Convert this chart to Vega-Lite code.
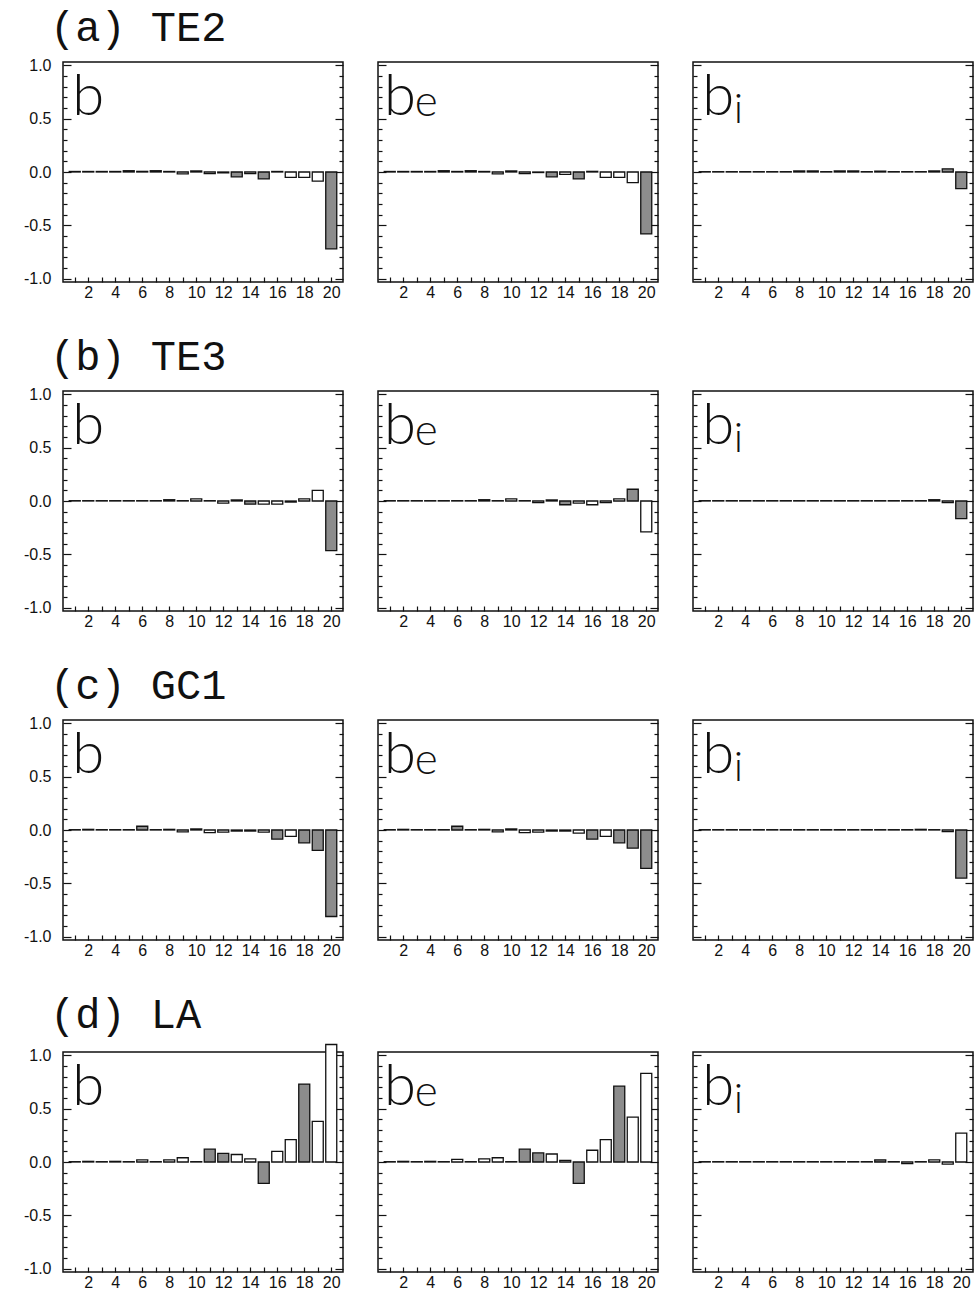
{
"$schema": "https://vega.github.io/schema/vega-lite/v6.json",
"background": "white",
"padding": {"left": 22, "top": 7, "right": 0, "bottom": 1},
"config": {
  "view": {"stroke": "#111", "strokeWidth": 1.5},
  "axis": {"domain": false, "grid": false, "labelFont": "Liberation Sans", "labelFontSize": 16, "labelColor": "#111", "tickColor": "#111", "tickWidth": 1.2},
  "title": {"font": "Liberation Mono", "fontSize": 42, "fontWeight": "normal", "color": "#111", "anchor": "start", "frame": "group", "dx": -13, "offset": 6}
},
"datasets": {"bars": [
{"row":"a","comp":"b","k":1,"v":0.005,"shade":"n"},{"row":"a","comp":"b","k":2,"v":0.005,"shade":"n"},{"row":"a","comp":"b","k":3,"v":0.005,"shade":"n"},{"row":"a","comp":"b","k":4,"v":0.005,"shade":"n"},{"row":"a","comp":"b","k":5,"v":0.012,"shade":"n"},{"row":"a","comp":"b","k":6,"v":0.006,"shade":"n"},{"row":"a","comp":"b","k":7,"v":0.012,"shade":"n"},{"row":"a","comp":"b","k":8,"v":0.005,"shade":"n"},{"row":"a","comp":"b","k":9,"v":-0.018,"shade":"n"},{"row":"a","comp":"b","k":10,"v":0.01,"shade":"n"},{"row":"a","comp":"b","k":11,"v":-0.015,"shade":"n"},{"row":"a","comp":"b","k":12,"v":-0.008,"shade":"n"},{"row":"a","comp":"b","k":13,"v":-0.045,"shade":"y"},{"row":"a","comp":"b","k":14,"v":-0.015,"shade":"n"},{"row":"a","comp":"b","k":15,"v":-0.065,"shade":"y"},{"row":"a","comp":"b","k":16,"v":0.005,"shade":"n"},{"row":"a","comp":"b","k":17,"v":-0.05,"shade":"n"},{"row":"a","comp":"b","k":18,"v":-0.05,"shade":"n"},{"row":"a","comp":"b","k":19,"v":-0.085,"shade":"n"},{"row":"a","comp":"b","k":20,"v":-0.72,"shade":"y"},
{"row":"a","comp":"be","k":1,"v":0.005,"shade":"n"},{"row":"a","comp":"be","k":2,"v":0.005,"shade":"n"},{"row":"a","comp":"be","k":3,"v":0.005,"shade":"n"},{"row":"a","comp":"be","k":4,"v":0.005,"shade":"n"},{"row":"a","comp":"be","k":5,"v":0.012,"shade":"n"},{"row":"a","comp":"be","k":6,"v":0.005,"shade":"n"},{"row":"a","comp":"be","k":7,"v":0.012,"shade":"n"},{"row":"a","comp":"be","k":8,"v":0.005,"shade":"n"},{"row":"a","comp":"be","k":9,"v":-0.018,"shade":"n"},{"row":"a","comp":"be","k":10,"v":0.01,"shade":"n"},{"row":"a","comp":"be","k":11,"v":-0.015,"shade":"n"},{"row":"a","comp":"be","k":12,"v":-0.005,"shade":"n"},{"row":"a","comp":"be","k":13,"v":-0.045,"shade":"y"},{"row":"a","comp":"be","k":14,"v":-0.022,"shade":"n"},{"row":"a","comp":"be","k":15,"v":-0.065,"shade":"y"},{"row":"a","comp":"be","k":16,"v":0.006,"shade":"n"},{"row":"a","comp":"be","k":17,"v":-0.05,"shade":"n"},{"row":"a","comp":"be","k":18,"v":-0.05,"shade":"n"},{"row":"a","comp":"be","k":19,"v":-0.1,"shade":"n"},{"row":"a","comp":"be","k":20,"v":-0.58,"shade":"y"},
{"row":"a","comp":"bi","k":1,"v":0.003,"shade":"n"},{"row":"a","comp":"bi","k":2,"v":0.003,"shade":"n"},{"row":"a","comp":"bi","k":3,"v":0.003,"shade":"n"},{"row":"a","comp":"bi","k":4,"v":0.003,"shade":"n"},{"row":"a","comp":"bi","k":5,"v":0.003,"shade":"n"},{"row":"a","comp":"bi","k":6,"v":0.003,"shade":"n"},{"row":"a","comp":"bi","k":7,"v":0.003,"shade":"n"},{"row":"a","comp":"bi","k":8,"v":0.01,"shade":"n"},{"row":"a","comp":"bi","k":9,"v":0.01,"shade":"n"},{"row":"a","comp":"bi","k":10,"v":0.003,"shade":"n"},{"row":"a","comp":"bi","k":11,"v":0.01,"shade":"n"},{"row":"a","comp":"bi","k":12,"v":0.01,"shade":"n"},{"row":"a","comp":"bi","k":13,"v":0.003,"shade":"n"},{"row":"a","comp":"bi","k":14,"v":0.008,"shade":"n"},{"row":"a","comp":"bi","k":15,"v":0.003,"shade":"n"},{"row":"a","comp":"bi","k":16,"v":0.003,"shade":"n"},{"row":"a","comp":"bi","k":17,"v":0.003,"shade":"n"},{"row":"a","comp":"bi","k":18,"v":0.01,"shade":"n"},{"row":"a","comp":"bi","k":19,"v":0.03,"shade":"y"},{"row":"a","comp":"bi","k":20,"v":-0.155,"shade":"y"},
{"row":"b","comp":"b","k":1,"v":0.003,"shade":"n"},{"row":"b","comp":"b","k":2,"v":0.003,"shade":"n"},{"row":"b","comp":"b","k":3,"v":0.003,"shade":"n"},{"row":"b","comp":"b","k":4,"v":0.003,"shade":"n"},{"row":"b","comp":"b","k":5,"v":0.003,"shade":"n"},{"row":"b","comp":"b","k":6,"v":0.003,"shade":"n"},{"row":"b","comp":"b","k":7,"v":0.003,"shade":"n"},{"row":"b","comp":"b","k":8,"v":0.012,"shade":"n"},{"row":"b","comp":"b","k":9,"v":0.003,"shade":"n"},{"row":"b","comp":"b","k":10,"v":0.02,"shade":"n"},{"row":"b","comp":"b","k":11,"v":0.003,"shade":"n"},{"row":"b","comp":"b","k":12,"v":-0.02,"shade":"n"},{"row":"b","comp":"b","k":13,"v":0.01,"shade":"n"},{"row":"b","comp":"b","k":14,"v":-0.03,"shade":"y"},{"row":"b","comp":"b","k":15,"v":-0.03,"shade":"n"},{"row":"b","comp":"b","k":16,"v":-0.03,"shade":"n"},{"row":"b","comp":"b","k":17,"v":-0.01,"shade":"n"},{"row":"b","comp":"b","k":18,"v":0.02,"shade":"n"},{"row":"b","comp":"b","k":19,"v":0.1,"shade":"n"},{"row":"b","comp":"b","k":20,"v":-0.465,"shade":"y"},
{"row":"b","comp":"be","k":1,"v":0.003,"shade":"n"},{"row":"b","comp":"be","k":2,"v":0.003,"shade":"n"},{"row":"b","comp":"be","k":3,"v":0.003,"shade":"n"},{"row":"b","comp":"be","k":4,"v":0.003,"shade":"n"},{"row":"b","comp":"be","k":5,"v":0.003,"shade":"n"},{"row":"b","comp":"be","k":6,"v":0.003,"shade":"n"},{"row":"b","comp":"be","k":7,"v":0.003,"shade":"n"},{"row":"b","comp":"be","k":8,"v":0.012,"shade":"n"},{"row":"b","comp":"be","k":9,"v":0.003,"shade":"n"},{"row":"b","comp":"be","k":10,"v":0.02,"shade":"n"},{"row":"b","comp":"be","k":11,"v":0.003,"shade":"n"},{"row":"b","comp":"be","k":12,"v":-0.015,"shade":"n"},{"row":"b","comp":"be","k":13,"v":0.01,"shade":"n"},{"row":"b","comp":"be","k":14,"v":-0.035,"shade":"y"},{"row":"b","comp":"be","k":15,"v":-0.02,"shade":"n"},{"row":"b","comp":"be","k":16,"v":-0.035,"shade":"n"},{"row":"b","comp":"be","k":17,"v":-0.015,"shade":"n"},{"row":"b","comp":"be","k":18,"v":0.02,"shade":"n"},{"row":"b","comp":"be","k":19,"v":0.11,"shade":"y"},{"row":"b","comp":"be","k":20,"v":-0.29,"shade":"n"},
{"row":"b","comp":"bi","k":1,"v":0.003,"shade":"n"},{"row":"b","comp":"bi","k":2,"v":0.003,"shade":"n"},{"row":"b","comp":"bi","k":3,"v":0.003,"shade":"n"},{"row":"b","comp":"bi","k":4,"v":0.003,"shade":"n"},{"row":"b","comp":"bi","k":5,"v":0.003,"shade":"n"},{"row":"b","comp":"bi","k":6,"v":0.003,"shade":"n"},{"row":"b","comp":"bi","k":7,"v":0.003,"shade":"n"},{"row":"b","comp":"bi","k":8,"v":0.003,"shade":"n"},{"row":"b","comp":"bi","k":9,"v":0.003,"shade":"n"},{"row":"b","comp":"bi","k":10,"v":0.003,"shade":"n"},{"row":"b","comp":"bi","k":11,"v":0.003,"shade":"n"},{"row":"b","comp":"bi","k":12,"v":0.003,"shade":"n"},{"row":"b","comp":"bi","k":13,"v":0.003,"shade":"n"},{"row":"b","comp":"bi","k":14,"v":0.003,"shade":"n"},{"row":"b","comp":"bi","k":15,"v":0.003,"shade":"n"},{"row":"b","comp":"bi","k":16,"v":0.003,"shade":"n"},{"row":"b","comp":"bi","k":17,"v":0.003,"shade":"n"},{"row":"b","comp":"bi","k":18,"v":0.012,"shade":"n"},{"row":"b","comp":"bi","k":19,"v":-0.015,"shade":"n"},{"row":"b","comp":"bi","k":20,"v":-0.165,"shade":"y"},
{"row":"c","comp":"b","k":1,"v":0.003,"shade":"n"},{"row":"c","comp":"b","k":2,"v":0.006,"shade":"n"},{"row":"c","comp":"b","k":3,"v":0.003,"shade":"n"},{"row":"c","comp":"b","k":4,"v":0.003,"shade":"n"},{"row":"c","comp":"b","k":5,"v":0.003,"shade":"n"},{"row":"c","comp":"b","k":6,"v":0.035,"shade":"y"},{"row":"c","comp":"b","k":7,"v":0.003,"shade":"n"},{"row":"c","comp":"b","k":8,"v":0.006,"shade":"n"},{"row":"c","comp":"b","k":9,"v":-0.018,"shade":"n"},{"row":"c","comp":"b","k":10,"v":0.01,"shade":"n"},{"row":"c","comp":"b","k":11,"v":-0.025,"shade":"n"},{"row":"c","comp":"b","k":12,"v":-0.02,"shade":"n"},{"row":"c","comp":"b","k":13,"v":-0.01,"shade":"n"},{"row":"c","comp":"b","k":14,"v":-0.01,"shade":"n"},{"row":"c","comp":"b","k":15,"v":-0.02,"shade":"n"},{"row":"c","comp":"b","k":16,"v":-0.085,"shade":"y"},{"row":"c","comp":"b","k":17,"v":-0.06,"shade":"n"},{"row":"c","comp":"b","k":18,"v":-0.12,"shade":"y"},{"row":"c","comp":"b","k":19,"v":-0.19,"shade":"y"},{"row":"c","comp":"b","k":20,"v":-0.81,"shade":"y"},
{"row":"c","comp":"be","k":1,"v":0.003,"shade":"n"},{"row":"c","comp":"be","k":2,"v":0.006,"shade":"n"},{"row":"c","comp":"be","k":3,"v":0.003,"shade":"n"},{"row":"c","comp":"be","k":4,"v":0.003,"shade":"n"},{"row":"c","comp":"be","k":5,"v":0.003,"shade":"n"},{"row":"c","comp":"be","k":6,"v":0.035,"shade":"y"},{"row":"c","comp":"be","k":7,"v":0.003,"shade":"n"},{"row":"c","comp":"be","k":8,"v":0.006,"shade":"n"},{"row":"c","comp":"be","k":9,"v":-0.018,"shade":"n"},{"row":"c","comp":"be","k":10,"v":0.01,"shade":"n"},{"row":"c","comp":"be","k":11,"v":-0.025,"shade":"n"},{"row":"c","comp":"be","k":12,"v":-0.02,"shade":"n"},{"row":"c","comp":"be","k":13,"v":-0.01,"shade":"n"},{"row":"c","comp":"be","k":14,"v":-0.01,"shade":"n"},{"row":"c","comp":"be","k":15,"v":-0.03,"shade":"n"},{"row":"c","comp":"be","k":16,"v":-0.085,"shade":"y"},{"row":"c","comp":"be","k":17,"v":-0.06,"shade":"n"},{"row":"c","comp":"be","k":18,"v":-0.12,"shade":"y"},{"row":"c","comp":"be","k":19,"v":-0.17,"shade":"y"},{"row":"c","comp":"be","k":20,"v":-0.36,"shade":"y"},
{"row":"c","comp":"bi","k":1,"v":0.003,"shade":"n"},{"row":"c","comp":"bi","k":2,"v":0.003,"shade":"n"},{"row":"c","comp":"bi","k":3,"v":0.003,"shade":"n"},{"row":"c","comp":"bi","k":4,"v":0.003,"shade":"n"},{"row":"c","comp":"bi","k":5,"v":0.003,"shade":"n"},{"row":"c","comp":"bi","k":6,"v":0.003,"shade":"n"},{"row":"c","comp":"bi","k":7,"v":0.003,"shade":"n"},{"row":"c","comp":"bi","k":8,"v":0.003,"shade":"n"},{"row":"c","comp":"bi","k":9,"v":0.003,"shade":"n"},{"row":"c","comp":"bi","k":10,"v":0.003,"shade":"n"},{"row":"c","comp":"bi","k":11,"v":0.003,"shade":"n"},{"row":"c","comp":"bi","k":12,"v":0.003,"shade":"n"},{"row":"c","comp":"bi","k":13,"v":0.003,"shade":"n"},{"row":"c","comp":"bi","k":14,"v":0.003,"shade":"n"},{"row":"c","comp":"bi","k":15,"v":0.003,"shade":"n"},{"row":"c","comp":"bi","k":16,"v":0.003,"shade":"n"},{"row":"c","comp":"bi","k":17,"v":0.006,"shade":"n"},{"row":"c","comp":"bi","k":18,"v":0.003,"shade":"n"},{"row":"c","comp":"bi","k":19,"v":-0.015,"shade":"n"},{"row":"c","comp":"bi","k":20,"v":-0.45,"shade":"y"},
{"row":"d","comp":"b","k":1,"v":0.003,"shade":"n"},{"row":"d","comp":"b","k":2,"v":0.006,"shade":"n"},{"row":"d","comp":"b","k":3,"v":0.003,"shade":"n"},{"row":"d","comp":"b","k":4,"v":0.006,"shade":"n"},{"row":"d","comp":"b","k":5,"v":0.003,"shade":"n"},{"row":"d","comp":"b","k":6,"v":0.02,"shade":"n"},{"row":"d","comp":"b","k":7,"v":0.003,"shade":"n"},{"row":"d","comp":"b","k":8,"v":0.02,"shade":"n"},{"row":"d","comp":"b","k":9,"v":0.04,"shade":"n"},{"row":"d","comp":"b","k":10,"v":0.003,"shade":"n"},{"row":"d","comp":"b","k":11,"v":0.12,"shade":"y"},{"row":"d","comp":"b","k":12,"v":0.08,"shade":"y"},{"row":"d","comp":"b","k":13,"v":0.07,"shade":"n"},{"row":"d","comp":"b","k":14,"v":0.03,"shade":"n"},{"row":"d","comp":"b","k":15,"v":-0.2,"shade":"y"},{"row":"d","comp":"b","k":16,"v":0.1,"shade":"n"},{"row":"d","comp":"b","k":17,"v":0.21,"shade":"n"},{"row":"d","comp":"b","k":18,"v":0.73,"shade":"y"},{"row":"d","comp":"b","k":19,"v":0.38,"shade":"n"},{"row":"d","comp":"b","k":20,"v":1.1,"shade":"n"},
{"row":"d","comp":"be","k":1,"v":0.003,"shade":"n"},{"row":"d","comp":"be","k":2,"v":0.006,"shade":"n"},{"row":"d","comp":"be","k":3,"v":0.003,"shade":"n"},{"row":"d","comp":"be","k":4,"v":0.006,"shade":"n"},{"row":"d","comp":"be","k":5,"v":0.003,"shade":"n"},{"row":"d","comp":"be","k":6,"v":0.025,"shade":"n"},{"row":"d","comp":"be","k":7,"v":0.003,"shade":"n"},{"row":"d","comp":"be","k":8,"v":0.03,"shade":"n"},{"row":"d","comp":"be","k":9,"v":0.04,"shade":"n"},{"row":"d","comp":"be","k":10,"v":0.003,"shade":"n"},{"row":"d","comp":"be","k":11,"v":0.12,"shade":"y"},{"row":"d","comp":"be","k":12,"v":0.085,"shade":"y"},{"row":"d","comp":"be","k":13,"v":0.075,"shade":"n"},{"row":"d","comp":"be","k":14,"v":0.015,"shade":"n"},{"row":"d","comp":"be","k":15,"v":-0.2,"shade":"y"},{"row":"d","comp":"be","k":16,"v":0.11,"shade":"n"},{"row":"d","comp":"be","k":17,"v":0.21,"shade":"n"},{"row":"d","comp":"be","k":18,"v":0.71,"shade":"y"},{"row":"d","comp":"be","k":19,"v":0.42,"shade":"n"},{"row":"d","comp":"be","k":20,"v":0.83,"shade":"n"},
{"row":"d","comp":"bi","k":1,"v":0.003,"shade":"n"},{"row":"d","comp":"bi","k":2,"v":0.003,"shade":"n"},{"row":"d","comp":"bi","k":3,"v":0.003,"shade":"n"},{"row":"d","comp":"bi","k":4,"v":0.003,"shade":"n"},{"row":"d","comp":"bi","k":5,"v":0.003,"shade":"n"},{"row":"d","comp":"bi","k":6,"v":0.003,"shade":"n"},{"row":"d","comp":"bi","k":7,"v":0.003,"shade":"n"},{"row":"d","comp":"bi","k":8,"v":0.003,"shade":"n"},{"row":"d","comp":"bi","k":9,"v":0.003,"shade":"n"},{"row":"d","comp":"bi","k":10,"v":0.003,"shade":"n"},{"row":"d","comp":"bi","k":11,"v":0.003,"shade":"n"},{"row":"d","comp":"bi","k":12,"v":0.003,"shade":"n"},{"row":"d","comp":"bi","k":13,"v":0.003,"shade":"n"},{"row":"d","comp":"bi","k":14,"v":0.02,"shade":"y"},{"row":"d","comp":"bi","k":15,"v":0.003,"shade":"n"},{"row":"d","comp":"bi","k":16,"v":-0.015,"shade":"n"},{"row":"d","comp":"bi","k":17,"v":0.003,"shade":"n"},{"row":"d","comp":"bi","k":18,"v":0.02,"shade":"n"},{"row":"d","comp":"bi","k":19,"v":-0.02,"shade":"n"},{"row":"d","comp":"bi","k":20,"v":0.27,"shade":"n"}
]},
"spacing": 35,
"vconcat": [
{"title": {"text": "(a) TE2"}, "spacing": 31, "hconcat": [
 {"width": 280, "height": 220, "resolve": {"axis": {"x": "independent", "y": "independent"}}, "layer": [
  {"data": {"name": "bars"}, "transform": [{"filter": "datum.row=='a' && datum.comp=='b'"}],
   "mark": {"type": "bar", "orient": "vertical", "size": 11, "stroke": "#111", "strokeWidth": 1.3, "clip": false},
   "encoding": {
    "x": {"field": "k", "type": "quantitative", "scale": {"domain": [0.5, 20.5], "nice": false, "zero": false}, "axis": {"title": null, "values": [1,2,3,4,5,6,7,8,9,10,11,12,13,14,15,16,17,18,19,20], "labelExpr": "datum.value % 2 == 0 ? datum.label : ''", "tickSize": -5, "labelPadding": 7}},
    "y": {"field": "v", "type": "quantitative", "scale": {"domain": [-1.03, 1.03], "nice": false}, "axis": {"title": null, "values": [-1,-0.9,-0.8,-0.7,-0.6,-0.5,-0.4,-0.3,-0.2,-0.1,0,0.1,0.2,0.3,0.4,0.5,0.6,0.7,0.8,0.9,1], "labelExpr": "abs(round(datum.value*10)) % 5 == 0 ? (datum.value < -0.001 ? '-' : '') + format(abs(datum.value), '.1f') : ''", "tickSize": {"condition": {"test": "abs(round(datum.value*10)) % 5 == 0", "value": -8}, "value": -4}, "labelPadding": 20}},
    "fill": {"field": "shade", "type": "nominal", "scale": {"domain": ["y", "n"], "range": ["#8c8c8c", "#ffffff"]}, "legend": null}}},
  {"data": {"values": [{"t": "b"}]}, "mark": {"type": "text", "font": "Lato", "fontWeight": 300, "fontSize": 58, "align": "left", "baseline": "alphabetic", "color": "#111"},
   "encoding": {"x": {"datum": 0.81, "type": "quantitative", "axis": null}, "y": {"datum": 0.53, "type": "quantitative", "axis": {"orient": "right", "title": null, "labels": false, "values": [-1,-0.9,-0.8,-0.7,-0.6,-0.5,-0.4,-0.3,-0.2,-0.1,0,0.1,0.2,0.3,0.4,0.5,0.6,0.7,0.8,0.9,1], "tickSize": {"condition": {"test": "abs(round(datum.value*10)) % 5 == 0", "value": -8}, "value": -4}}}, "text": {"field": "t"}}}
 ]},
 {"width": 280, "height": 220, "resolve": {"axis": {"x": "independent", "y": "independent"}}, "layer": [
  {"data": {"name": "bars"}, "transform": [{"filter": "datum.row=='a' && datum.comp=='be'"}],
   "mark": {"type": "bar", "orient": "vertical", "size": 11, "stroke": "#111", "strokeWidth": 1.3, "clip": false},
   "encoding": {
    "x": {"field": "k", "type": "quantitative", "scale": {"domain": [0.5, 20.5], "nice": false, "zero": false}, "axis": {"title": null, "values": [1,2,3,4,5,6,7,8,9,10,11,12,13,14,15,16,17,18,19,20], "labelExpr": "datum.value % 2 == 0 ? datum.label : ''", "tickSize": -5, "labelPadding": 7}},
    "y": {"field": "v", "type": "quantitative", "scale": {"domain": [-1.03, 1.03], "nice": false}, "axis": {"title": null, "labels": false, "values": [-1,-0.9,-0.8,-0.7,-0.6,-0.5,-0.4,-0.3,-0.2,-0.1,0,0.1,0.2,0.3,0.4,0.5,0.6,0.7,0.8,0.9,1], "tickSize": {"condition": {"test": "abs(round(datum.value*10)) % 5 == 0", "value": -8}, "value": -4}}},
    "fill": {"field": "shade", "type": "nominal", "scale": {"domain": ["y", "n"], "range": ["#8c8c8c", "#ffffff"]}, "legend": null}}},
  {"data": {"values": [{"t": "b"}]}, "mark": {"type": "text", "font": "Lato", "fontWeight": 300, "fontSize": 58, "align": "left", "baseline": "alphabetic", "color": "#111"},
   "encoding": {"x": {"datum": 0.57, "type": "quantitative", "axis": null}, "y": {"datum": 0.53, "type": "quantitative", "axis": {"orient": "right", "title": null, "labels": false, "values": [-1,-0.9,-0.8,-0.7,-0.6,-0.5,-0.4,-0.3,-0.2,-0.1,0,0.1,0.2,0.3,0.4,0.5,0.6,0.7,0.8,0.9,1], "tickSize": {"condition": {"test": "abs(round(datum.value*10)) % 5 == 0", "value": -8}, "value": -4}}}, "text": {"field": "t"}}},
  {"data": {"values": [{"t": "e"}]}, "mark": {"type": "text", "font": "Lato", "fontWeight": 300, "fontSize": 44, "align": "left", "baseline": "alphabetic", "color": "#111"},
   "encoding": {"x": {"datum": 2.85, "type": "quantitative", "axis": null}, "y": {"datum": 0.52, "type": "quantitative", "axis": null}, "text": {"field": "t"}}}
 ]},
 {"width": 280, "height": 220, "resolve": {"axis": {"x": "independent", "y": "independent"}}, "layer": [
  {"data": {"name": "bars"}, "transform": [{"filter": "datum.row=='a' && datum.comp=='bi'"}],
   "mark": {"type": "bar", "orient": "vertical", "size": 11, "stroke": "#111", "strokeWidth": 1.3, "clip": false},
   "encoding": {
    "x": {"field": "k", "type": "quantitative", "scale": {"domain": [0.5, 20.5], "nice": false, "zero": false}, "axis": {"title": null, "values": [1,2,3,4,5,6,7,8,9,10,11,12,13,14,15,16,17,18,19,20], "labelExpr": "datum.value % 2 == 0 ? datum.label : ''", "tickSize": -5, "labelPadding": 7}},
    "y": {"field": "v", "type": "quantitative", "scale": {"domain": [-1.03, 1.03], "nice": false}, "axis": {"title": null, "labels": false, "values": [-1,-0.9,-0.8,-0.7,-0.6,-0.5,-0.4,-0.3,-0.2,-0.1,0,0.1,0.2,0.3,0.4,0.5,0.6,0.7,0.8,0.9,1], "tickSize": {"condition": {"test": "abs(round(datum.value*10)) % 5 == 0", "value": -8}, "value": -4}}},
    "fill": {"field": "shade", "type": "nominal", "scale": {"domain": ["y", "n"], "range": ["#8c8c8c", "#ffffff"]}, "legend": null}}},
  {"data": {"values": [{"t": "b"}]}, "mark": {"type": "text", "font": "Lato", "fontWeight": 300, "fontSize": 58, "align": "left", "baseline": "alphabetic", "color": "#111"},
   "encoding": {"x": {"datum": 0.81, "type": "quantitative", "axis": null}, "y": {"datum": 0.53, "type": "quantitative", "axis": {"orient": "right", "title": null, "labels": false, "values": [-1,-0.9,-0.8,-0.7,-0.6,-0.5,-0.4,-0.3,-0.2,-0.1,0,0.1,0.2,0.3,0.4,0.5,0.6,0.7,0.8,0.9,1], "tickSize": {"condition": {"test": "abs(round(datum.value*10)) % 5 == 0", "value": -8}, "value": -4}}}, "text": {"field": "t"}}},
  {"data": {"values": [{"t": "i"}]}, "mark": {"type": "text", "font": "Lato", "fontWeight": 300, "fontSize": 42, "align": "left", "baseline": "alphabetic", "color": "#111"},
   "encoding": {"x": {"datum": 3.15, "type": "quantitative", "axis": null}, "y": {"datum": 0.46, "type": "quantitative", "axis": null}, "text": {"field": "t"}}}
 ]}
]},
{"title": {"text": "(b) TE3"}, "spacing": 31, "hconcat": [
 {"width": 280, "height": 220, "resolve": {"axis": {"x": "independent", "y": "independent"}}, "layer": [
  {"data": {"name": "bars"}, "transform": [{"filter": "datum.row=='b' && datum.comp=='b'"}],
   "mark": {"type": "bar", "orient": "vertical", "size": 11, "stroke": "#111", "strokeWidth": 1.3, "clip": false},
   "encoding": {
    "x": {"field": "k", "type": "quantitative", "scale": {"domain": [0.5, 20.5], "nice": false, "zero": false}, "axis": {"title": null, "values": [1,2,3,4,5,6,7,8,9,10,11,12,13,14,15,16,17,18,19,20], "labelExpr": "datum.value % 2 == 0 ? datum.label : ''", "tickSize": -5, "labelPadding": 7}},
    "y": {"field": "v", "type": "quantitative", "scale": {"domain": [-1.03, 1.03], "nice": false}, "axis": {"title": null, "values": [-1,-0.9,-0.8,-0.7,-0.6,-0.5,-0.4,-0.3,-0.2,-0.1,0,0.1,0.2,0.3,0.4,0.5,0.6,0.7,0.8,0.9,1], "labelExpr": "abs(round(datum.value*10)) % 5 == 0 ? (datum.value < -0.001 ? '-' : '') + format(abs(datum.value), '.1f') : ''", "tickSize": {"condition": {"test": "abs(round(datum.value*10)) % 5 == 0", "value": -8}, "value": -4}, "labelPadding": 20}},
    "fill": {"field": "shade", "type": "nominal", "scale": {"domain": ["y", "n"], "range": ["#8c8c8c", "#ffffff"]}, "legend": null}}},
  {"data": {"values": [{"t": "b"}]}, "mark": {"type": "text", "font": "Lato", "fontWeight": 300, "fontSize": 58, "align": "left", "baseline": "alphabetic", "color": "#111"},
   "encoding": {"x": {"datum": 0.81, "type": "quantitative", "axis": null}, "y": {"datum": 0.53, "type": "quantitative", "axis": {"orient": "right", "title": null, "labels": false, "values": [-1,-0.9,-0.8,-0.7,-0.6,-0.5,-0.4,-0.3,-0.2,-0.1,0,0.1,0.2,0.3,0.4,0.5,0.6,0.7,0.8,0.9,1], "tickSize": {"condition": {"test": "abs(round(datum.value*10)) % 5 == 0", "value": -8}, "value": -4}}}, "text": {"field": "t"}}}
 ]},
 {"width": 280, "height": 220, "resolve": {"axis": {"x": "independent", "y": "independent"}}, "layer": [
  {"data": {"name": "bars"}, "transform": [{"filter": "datum.row=='b' && datum.comp=='be'"}],
   "mark": {"type": "bar", "orient": "vertical", "size": 11, "stroke": "#111", "strokeWidth": 1.3, "clip": false},
   "encoding": {
    "x": {"field": "k", "type": "quantitative", "scale": {"domain": [0.5, 20.5], "nice": false, "zero": false}, "axis": {"title": null, "values": [1,2,3,4,5,6,7,8,9,10,11,12,13,14,15,16,17,18,19,20], "labelExpr": "datum.value % 2 == 0 ? datum.label : ''", "tickSize": -5, "labelPadding": 7}},
    "y": {"field": "v", "type": "quantitative", "scale": {"domain": [-1.03, 1.03], "nice": false}, "axis": {"title": null, "labels": false, "values": [-1,-0.9,-0.8,-0.7,-0.6,-0.5,-0.4,-0.3,-0.2,-0.1,0,0.1,0.2,0.3,0.4,0.5,0.6,0.7,0.8,0.9,1], "tickSize": {"condition": {"test": "abs(round(datum.value*10)) % 5 == 0", "value": -8}, "value": -4}}},
    "fill": {"field": "shade", "type": "nominal", "scale": {"domain": ["y", "n"], "range": ["#8c8c8c", "#ffffff"]}, "legend": null}}},
  {"data": {"values": [{"t": "b"}]}, "mark": {"type": "text", "font": "Lato", "fontWeight": 300, "fontSize": 58, "align": "left", "baseline": "alphabetic", "color": "#111"},
   "encoding": {"x": {"datum": 0.57, "type": "quantitative", "axis": null}, "y": {"datum": 0.53, "type": "quantitative", "axis": {"orient": "right", "title": null, "labels": false, "values": [-1,-0.9,-0.8,-0.7,-0.6,-0.5,-0.4,-0.3,-0.2,-0.1,0,0.1,0.2,0.3,0.4,0.5,0.6,0.7,0.8,0.9,1], "tickSize": {"condition": {"test": "abs(round(datum.value*10)) % 5 == 0", "value": -8}, "value": -4}}}, "text": {"field": "t"}}},
  {"data": {"values": [{"t": "e"}]}, "mark": {"type": "text", "font": "Lato", "fontWeight": 300, "fontSize": 44, "align": "left", "baseline": "alphabetic", "color": "#111"},
   "encoding": {"x": {"datum": 2.85, "type": "quantitative", "axis": null}, "y": {"datum": 0.52, "type": "quantitative", "axis": null}, "text": {"field": "t"}}}
 ]},
 {"width": 280, "height": 220, "resolve": {"axis": {"x": "independent", "y": "independent"}}, "layer": [
  {"data": {"name": "bars"}, "transform": [{"filter": "datum.row=='b' && datum.comp=='bi'"}],
   "mark": {"type": "bar", "orient": "vertical", "size": 11, "stroke": "#111", "strokeWidth": 1.3, "clip": false},
   "encoding": {
    "x": {"field": "k", "type": "quantitative", "scale": {"domain": [0.5, 20.5], "nice": false, "zero": false}, "axis": {"title": null, "values": [1,2,3,4,5,6,7,8,9,10,11,12,13,14,15,16,17,18,19,20], "labelExpr": "datum.value % 2 == 0 ? datum.label : ''", "tickSize": -5, "labelPadding": 7}},
    "y": {"field": "v", "type": "quantitative", "scale": {"domain": [-1.03, 1.03], "nice": false}, "axis": {"title": null, "labels": false, "values": [-1,-0.9,-0.8,-0.7,-0.6,-0.5,-0.4,-0.3,-0.2,-0.1,0,0.1,0.2,0.3,0.4,0.5,0.6,0.7,0.8,0.9,1], "tickSize": {"condition": {"test": "abs(round(datum.value*10)) % 5 == 0", "value": -8}, "value": -4}}},
    "fill": {"field": "shade", "type": "nominal", "scale": {"domain": ["y", "n"], "range": ["#8c8c8c", "#ffffff"]}, "legend": null}}},
  {"data": {"values": [{"t": "b"}]}, "mark": {"type": "text", "font": "Lato", "fontWeight": 300, "fontSize": 58, "align": "left", "baseline": "alphabetic", "color": "#111"},
   "encoding": {"x": {"datum": 0.81, "type": "quantitative", "axis": null}, "y": {"datum": 0.53, "type": "quantitative", "axis": {"orient": "right", "title": null, "labels": false, "values": [-1,-0.9,-0.8,-0.7,-0.6,-0.5,-0.4,-0.3,-0.2,-0.1,0,0.1,0.2,0.3,0.4,0.5,0.6,0.7,0.8,0.9,1], "tickSize": {"condition": {"test": "abs(round(datum.value*10)) % 5 == 0", "value": -8}, "value": -4}}}, "text": {"field": "t"}}},
  {"data": {"values": [{"t": "i"}]}, "mark": {"type": "text", "font": "Lato", "fontWeight": 300, "fontSize": 42, "align": "left", "baseline": "alphabetic", "color": "#111"},
   "encoding": {"x": {"datum": 3.15, "type": "quantitative", "axis": null}, "y": {"datum": 0.46, "type": "quantitative", "axis": null}, "text": {"field": "t"}}}
 ]}
]},
{"title": {"text": "(c) GC1"}, "spacing": 31, "hconcat": [
 {"width": 280, "height": 220, "resolve": {"axis": {"x": "independent", "y": "independent"}}, "layer": [
  {"data": {"name": "bars"}, "transform": [{"filter": "datum.row=='c' && datum.comp=='b'"}],
   "mark": {"type": "bar", "orient": "vertical", "size": 11, "stroke": "#111", "strokeWidth": 1.3, "clip": false},
   "encoding": {
    "x": {"field": "k", "type": "quantitative", "scale": {"domain": [0.5, 20.5], "nice": false, "zero": false}, "axis": {"title": null, "values": [1,2,3,4,5,6,7,8,9,10,11,12,13,14,15,16,17,18,19,20], "labelExpr": "datum.value % 2 == 0 ? datum.label : ''", "tickSize": -5, "labelPadding": 7}},
    "y": {"field": "v", "type": "quantitative", "scale": {"domain": [-1.03, 1.03], "nice": false}, "axis": {"title": null, "values": [-1,-0.9,-0.8,-0.7,-0.6,-0.5,-0.4,-0.3,-0.2,-0.1,0,0.1,0.2,0.3,0.4,0.5,0.6,0.7,0.8,0.9,1], "labelExpr": "abs(round(datum.value*10)) % 5 == 0 ? (datum.value < -0.001 ? '-' : '') + format(abs(datum.value), '.1f') : ''", "tickSize": {"condition": {"test": "abs(round(datum.value*10)) % 5 == 0", "value": -8}, "value": -4}, "labelPadding": 20}},
    "fill": {"field": "shade", "type": "nominal", "scale": {"domain": ["y", "n"], "range": ["#8c8c8c", "#ffffff"]}, "legend": null}}},
  {"data": {"values": [{"t": "b"}]}, "mark": {"type": "text", "font": "Lato", "fontWeight": 300, "fontSize": 58, "align": "left", "baseline": "alphabetic", "color": "#111"},
   "encoding": {"x": {"datum": 0.81, "type": "quantitative", "axis": null}, "y": {"datum": 0.53, "type": "quantitative", "axis": {"orient": "right", "title": null, "labels": false, "values": [-1,-0.9,-0.8,-0.7,-0.6,-0.5,-0.4,-0.3,-0.2,-0.1,0,0.1,0.2,0.3,0.4,0.5,0.6,0.7,0.8,0.9,1], "tickSize": {"condition": {"test": "abs(round(datum.value*10)) % 5 == 0", "value": -8}, "value": -4}}}, "text": {"field": "t"}}}
 ]},
 {"width": 280, "height": 220, "resolve": {"axis": {"x": "independent", "y": "independent"}}, "layer": [
  {"data": {"name": "bars"}, "transform": [{"filter": "datum.row=='c' && datum.comp=='be'"}],
   "mark": {"type": "bar", "orient": "vertical", "size": 11, "stroke": "#111", "strokeWidth": 1.3, "clip": false},
   "encoding": {
    "x": {"field": "k", "type": "quantitative", "scale": {"domain": [0.5, 20.5], "nice": false, "zero": false}, "axis": {"title": null, "values": [1,2,3,4,5,6,7,8,9,10,11,12,13,14,15,16,17,18,19,20], "labelExpr": "datum.value % 2 == 0 ? datum.label : ''", "tickSize": -5, "labelPadding": 7}},
    "y": {"field": "v", "type": "quantitative", "scale": {"domain": [-1.03, 1.03], "nice": false}, "axis": {"title": null, "labels": false, "values": [-1,-0.9,-0.8,-0.7,-0.6,-0.5,-0.4,-0.3,-0.2,-0.1,0,0.1,0.2,0.3,0.4,0.5,0.6,0.7,0.8,0.9,1], "tickSize": {"condition": {"test": "abs(round(datum.value*10)) % 5 == 0", "value": -8}, "value": -4}}},
    "fill": {"field": "shade", "type": "nominal", "scale": {"domain": ["y", "n"], "range": ["#8c8c8c", "#ffffff"]}, "legend": null}}},
  {"data": {"values": [{"t": "b"}]}, "mark": {"type": "text", "font": "Lato", "fontWeight": 300, "fontSize": 58, "align": "left", "baseline": "alphabetic", "color": "#111"},
   "encoding": {"x": {"datum": 0.57, "type": "quantitative", "axis": null}, "y": {"datum": 0.53, "type": "quantitative", "axis": {"orient": "right", "title": null, "labels": false, "values": [-1,-0.9,-0.8,-0.7,-0.6,-0.5,-0.4,-0.3,-0.2,-0.1,0,0.1,0.2,0.3,0.4,0.5,0.6,0.7,0.8,0.9,1], "tickSize": {"condition": {"test": "abs(round(datum.value*10)) % 5 == 0", "value": -8}, "value": -4}}}, "text": {"field": "t"}}},
  {"data": {"values": [{"t": "e"}]}, "mark": {"type": "text", "font": "Lato", "fontWeight": 300, "fontSize": 44, "align": "left", "baseline": "alphabetic", "color": "#111"},
   "encoding": {"x": {"datum": 2.85, "type": "quantitative", "axis": null}, "y": {"datum": 0.52, "type": "quantitative", "axis": null}, "text": {"field": "t"}}}
 ]},
 {"width": 280, "height": 220, "resolve": {"axis": {"x": "independent", "y": "independent"}}, "layer": [
  {"data": {"name": "bars"}, "transform": [{"filter": "datum.row=='c' && datum.comp=='bi'"}],
   "mark": {"type": "bar", "orient": "vertical", "size": 11, "stroke": "#111", "strokeWidth": 1.3, "clip": false},
   "encoding": {
    "x": {"field": "k", "type": "quantitative", "scale": {"domain": [0.5, 20.5], "nice": false, "zero": false}, "axis": {"title": null, "values": [1,2,3,4,5,6,7,8,9,10,11,12,13,14,15,16,17,18,19,20], "labelExpr": "datum.value % 2 == 0 ? datum.label : ''", "tickSize": -5, "labelPadding": 7}},
    "y": {"field": "v", "type": "quantitative", "scale": {"domain": [-1.03, 1.03], "nice": false}, "axis": {"title": null, "labels": false, "values": [-1,-0.9,-0.8,-0.7,-0.6,-0.5,-0.4,-0.3,-0.2,-0.1,0,0.1,0.2,0.3,0.4,0.5,0.6,0.7,0.8,0.9,1], "tickSize": {"condition": {"test": "abs(round(datum.value*10)) % 5 == 0", "value": -8}, "value": -4}}},
    "fill": {"field": "shade", "type": "nominal", "scale": {"domain": ["y", "n"], "range": ["#8c8c8c", "#ffffff"]}, "legend": null}}},
  {"data": {"values": [{"t": "b"}]}, "mark": {"type": "text", "font": "Lato", "fontWeight": 300, "fontSize": 58, "align": "left", "baseline": "alphabetic", "color": "#111"},
   "encoding": {"x": {"datum": 0.81, "type": "quantitative", "axis": null}, "y": {"datum": 0.53, "type": "quantitative", "axis": {"orient": "right", "title": null, "labels": false, "values": [-1,-0.9,-0.8,-0.7,-0.6,-0.5,-0.4,-0.3,-0.2,-0.1,0,0.1,0.2,0.3,0.4,0.5,0.6,0.7,0.8,0.9,1], "tickSize": {"condition": {"test": "abs(round(datum.value*10)) % 5 == 0", "value": -8}, "value": -4}}}, "text": {"field": "t"}}},
  {"data": {"values": [{"t": "i"}]}, "mark": {"type": "text", "font": "Lato", "fontWeight": 300, "fontSize": 42, "align": "left", "baseline": "alphabetic", "color": "#111"},
   "encoding": {"x": {"datum": 3.15, "type": "quantitative", "axis": null}, "y": {"datum": 0.46, "type": "quantitative", "axis": null}, "text": {"field": "t"}}}
 ]}
]},
{"title": {"text": "(d) LA"}, "spacing": 31, "hconcat": [
 {"width": 280, "height": 220, "resolve": {"axis": {"x": "independent", "y": "independent"}}, "layer": [
  {"data": {"name": "bars"}, "transform": [{"filter": "datum.row=='d' && datum.comp=='b'"}],
   "mark": {"type": "bar", "orient": "vertical", "size": 11, "stroke": "#111", "strokeWidth": 1.3, "clip": false},
   "encoding": {
    "x": {"field": "k", "type": "quantitative", "scale": {"domain": [0.5, 20.5], "nice": false, "zero": false}, "axis": {"title": null, "values": [1,2,3,4,5,6,7,8,9,10,11,12,13,14,15,16,17,18,19,20], "labelExpr": "datum.value % 2 == 0 ? datum.label : ''", "tickSize": -5, "labelPadding": 7}},
    "y": {"field": "v", "type": "quantitative", "scale": {"domain": [-1.03, 1.03], "nice": false}, "axis": {"title": null, "values": [-1,-0.9,-0.8,-0.7,-0.6,-0.5,-0.4,-0.3,-0.2,-0.1,0,0.1,0.2,0.3,0.4,0.5,0.6,0.7,0.8,0.9,1], "labelExpr": "abs(round(datum.value*10)) % 5 == 0 ? (datum.value < -0.001 ? '-' : '') + format(abs(datum.value), '.1f') : ''", "tickSize": {"condition": {"test": "abs(round(datum.value*10)) % 5 == 0", "value": -8}, "value": -4}, "labelPadding": 20}},
    "fill": {"field": "shade", "type": "nominal", "scale": {"domain": ["y", "n"], "range": ["#8c8c8c", "#ffffff"]}, "legend": null}}},
  {"data": {"values": [{"t": "b"}]}, "mark": {"type": "text", "font": "Lato", "fontWeight": 300, "fontSize": 58, "align": "left", "baseline": "alphabetic", "color": "#111"},
   "encoding": {"x": {"datum": 0.81, "type": "quantitative", "axis": null}, "y": {"datum": 0.53, "type": "quantitative", "axis": {"orient": "right", "title": null, "labels": false, "values": [-1,-0.9,-0.8,-0.7,-0.6,-0.5,-0.4,-0.3,-0.2,-0.1,0,0.1,0.2,0.3,0.4,0.5,0.6,0.7,0.8,0.9,1], "tickSize": {"condition": {"test": "abs(round(datum.value*10)) % 5 == 0", "value": -8}, "value": -4}}}, "text": {"field": "t"}}}
 ]},
 {"width": 280, "height": 220, "resolve": {"axis": {"x": "independent", "y": "independent"}}, "layer": [
  {"data": {"name": "bars"}, "transform": [{"filter": "datum.row=='d' && datum.comp=='be'"}],
   "mark": {"type": "bar", "orient": "vertical", "size": 11, "stroke": "#111", "strokeWidth": 1.3, "clip": false},
   "encoding": {
    "x": {"field": "k", "type": "quantitative", "scale": {"domain": [0.5, 20.5], "nice": false, "zero": false}, "axis": {"title": null, "values": [1,2,3,4,5,6,7,8,9,10,11,12,13,14,15,16,17,18,19,20], "labelExpr": "datum.value % 2 == 0 ? datum.label : ''", "tickSize": -5, "labelPadding": 7}},
    "y": {"field": "v", "type": "quantitative", "scale": {"domain": [-1.03, 1.03], "nice": false}, "axis": {"title": null, "labels": false, "values": [-1,-0.9,-0.8,-0.7,-0.6,-0.5,-0.4,-0.3,-0.2,-0.1,0,0.1,0.2,0.3,0.4,0.5,0.6,0.7,0.8,0.9,1], "tickSize": {"condition": {"test": "abs(round(datum.value*10)) % 5 == 0", "value": -8}, "value": -4}}},
    "fill": {"field": "shade", "type": "nominal", "scale": {"domain": ["y", "n"], "range": ["#8c8c8c", "#ffffff"]}, "legend": null}}},
  {"data": {"values": [{"t": "b"}]}, "mark": {"type": "text", "font": "Lato", "fontWeight": 300, "fontSize": 58, "align": "left", "baseline": "alphabetic", "color": "#111"},
   "encoding": {"x": {"datum": 0.57, "type": "quantitative", "axis": null}, "y": {"datum": 0.53, "type": "quantitative", "axis": {"orient": "right", "title": null, "labels": false, "values": [-1,-0.9,-0.8,-0.7,-0.6,-0.5,-0.4,-0.3,-0.2,-0.1,0,0.1,0.2,0.3,0.4,0.5,0.6,0.7,0.8,0.9,1], "tickSize": {"condition": {"test": "abs(round(datum.value*10)) % 5 == 0", "value": -8}, "value": -4}}}, "text": {"field": "t"}}},
  {"data": {"values": [{"t": "e"}]}, "mark": {"type": "text", "font": "Lato", "fontWeight": 300, "fontSize": 44, "align": "left", "baseline": "alphabetic", "color": "#111"},
   "encoding": {"x": {"datum": 2.85, "type": "quantitative", "axis": null}, "y": {"datum": 0.52, "type": "quantitative", "axis": null}, "text": {"field": "t"}}}
 ]},
 {"width": 280, "height": 220, "resolve": {"axis": {"x": "independent", "y": "independent"}}, "layer": [
  {"data": {"name": "bars"}, "transform": [{"filter": "datum.row=='d' && datum.comp=='bi'"}],
   "mark": {"type": "bar", "orient": "vertical", "size": 11, "stroke": "#111", "strokeWidth": 1.3, "clip": false},
   "encoding": {
    "x": {"field": "k", "type": "quantitative", "scale": {"domain": [0.5, 20.5], "nice": false, "zero": false}, "axis": {"title": null, "values": [1,2,3,4,5,6,7,8,9,10,11,12,13,14,15,16,17,18,19,20], "labelExpr": "datum.value % 2 == 0 ? datum.label : ''", "tickSize": -5, "labelPadding": 7}},
    "y": {"field": "v", "type": "quantitative", "scale": {"domain": [-1.03, 1.03], "nice": false}, "axis": {"title": null, "labels": false, "values": [-1,-0.9,-0.8,-0.7,-0.6,-0.5,-0.4,-0.3,-0.2,-0.1,0,0.1,0.2,0.3,0.4,0.5,0.6,0.7,0.8,0.9,1], "tickSize": {"condition": {"test": "abs(round(datum.value*10)) % 5 == 0", "value": -8}, "value": -4}}},
    "fill": {"field": "shade", "type": "nominal", "scale": {"domain": ["y", "n"], "range": ["#8c8c8c", "#ffffff"]}, "legend": null}}},
  {"data": {"values": [{"t": "b"}]}, "mark": {"type": "text", "font": "Lato", "fontWeight": 300, "fontSize": 58, "align": "left", "baseline": "alphabetic", "color": "#111"},
   "encoding": {"x": {"datum": 0.81, "type": "quantitative", "axis": null}, "y": {"datum": 0.53, "type": "quantitative", "axis": {"orient": "right", "title": null, "labels": false, "values": [-1,-0.9,-0.8,-0.7,-0.6,-0.5,-0.4,-0.3,-0.2,-0.1,0,0.1,0.2,0.3,0.4,0.5,0.6,0.7,0.8,0.9,1], "tickSize": {"condition": {"test": "abs(round(datum.value*10)) % 5 == 0", "value": -8}, "value": -4}}}, "text": {"field": "t"}}},
  {"data": {"values": [{"t": "i"}]}, "mark": {"type": "text", "font": "Lato", "fontWeight": 300, "fontSize": 42, "align": "left", "baseline": "alphabetic", "color": "#111"},
   "encoding": {"x": {"datum": 3.15, "type": "quantitative", "axis": null}, "y": {"datum": 0.46, "type": "quantitative", "axis": null}, "text": {"field": "t"}}}
 ]}
]}
]
}
